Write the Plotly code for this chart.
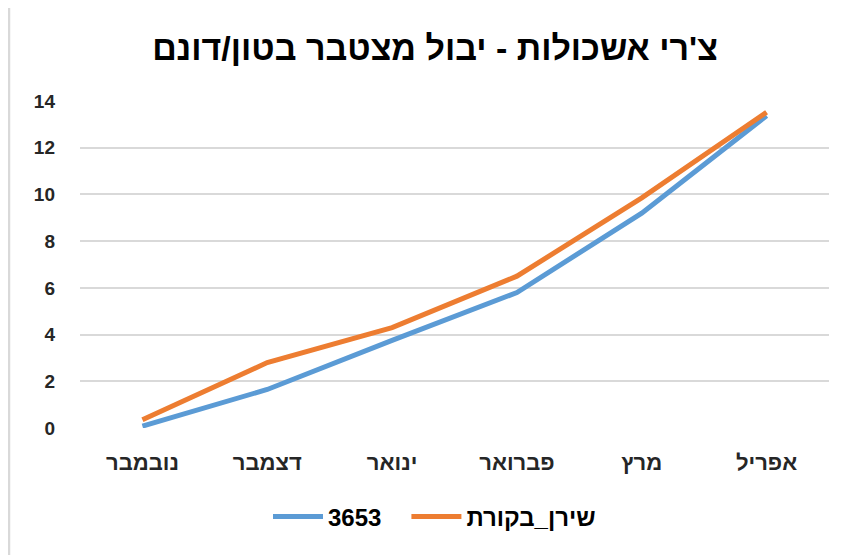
import plotly.graph_objects as go

months = ["נובמבר", "דצמבר", "ינואר", "פברואר", "מרץ", "אפריל"]
series_3653 = [0.08, 1.65, 3.75, 5.8, 9.2, 13.37]
series_shiran = [0.35, 2.8, 4.3, 6.5, 9.85, 13.52]
y_ticks = [0, 2, 4, 6, 8, 10, 12, 14]

BLUE = "#5B9BD5"
ORANGE = "#ED7D31"
FONT = "Liberation Sans"

# page has an 8px body offset; compensate so content lands where the reference has it
OFF = 8
W, H = 854 - OFF, 555 - OFF
L, T = 80 - OFF, 101 - OFF
R = W - (829 - OFF)
B = H - (428 - OFF)
pw, ph = W - L - R, H - T - B


def py(page_y):
    """page y (px) -> paper y"""
    return ((428 - OFF) - (page_y - OFF)) / ph


fig = go.Figure()
fig.add_trace(go.Scatter(x=months, y=series_3653, mode="lines", name="<b>3653</b>&nbsp;&nbsp;&nbsp;",
                         line=dict(color=BLUE, width=5)))
fig.add_trace(go.Scatter(x=months, y=series_shiran, mode="lines", name="<b>שירן_בקורת</b>",
                         line=dict(color=ORANGE, width=5)))

fig.update_layout(
    width=W, height=H,
    margin=dict(l=L, r=R, t=T, b=B, autoexpand=False),
    paper_bgcolor="white", plot_bgcolor="white",
    font=dict(family=FONT, color="#262626"),
    title=dict(text="<b>צ'רי אשכולות - יבול מצטבר בטון/דונם</b>", x=(435 - OFF) / W, xanchor="center",
               xref="container",
               y=1 - (48 - OFF) / H, yanchor="middle", font=dict(size=34, color="#000000", family=FONT)),
    xaxis=dict(showgrid=False, showline=False, zeroline=False, range=[-0.5, 5.5],
               tickfont=dict(size=22, color="#262626"), ticklabelstandoff=19,
               tickvals=months, ticktext=[f"<b>{m}</b>" for m in months]),
    yaxis=dict(range=[0, 14], tickvals=y_ticks, ticktext=[f"<b>{v}</b>" for v in y_ticks],
               showgrid=True, gridcolor="#D9D9D9", gridwidth=1.5, zeroline=False, showline=False,
               tickfont=dict(size=19, color="#262626"), ticklabelstandoff=24),
    legend=dict(orientation="h", x=(268 - L - OFF) / pw, xanchor="left", y=py(517), yanchor="middle",
                font=dict(size=24, color="#000000", family=FONT), itemwidth=50,
                traceorder="normal"),
    showlegend=True,
    shapes=[
        dict(type="line", xref="paper", yref="paper", x0=(1 - L) / pw, x1=(1 - L) / pw,
             y0=py(0), y1=py(560), line=dict(color="#D9D9D9", width=2.5)),
    ],
)

fig.write_html("out.html")
